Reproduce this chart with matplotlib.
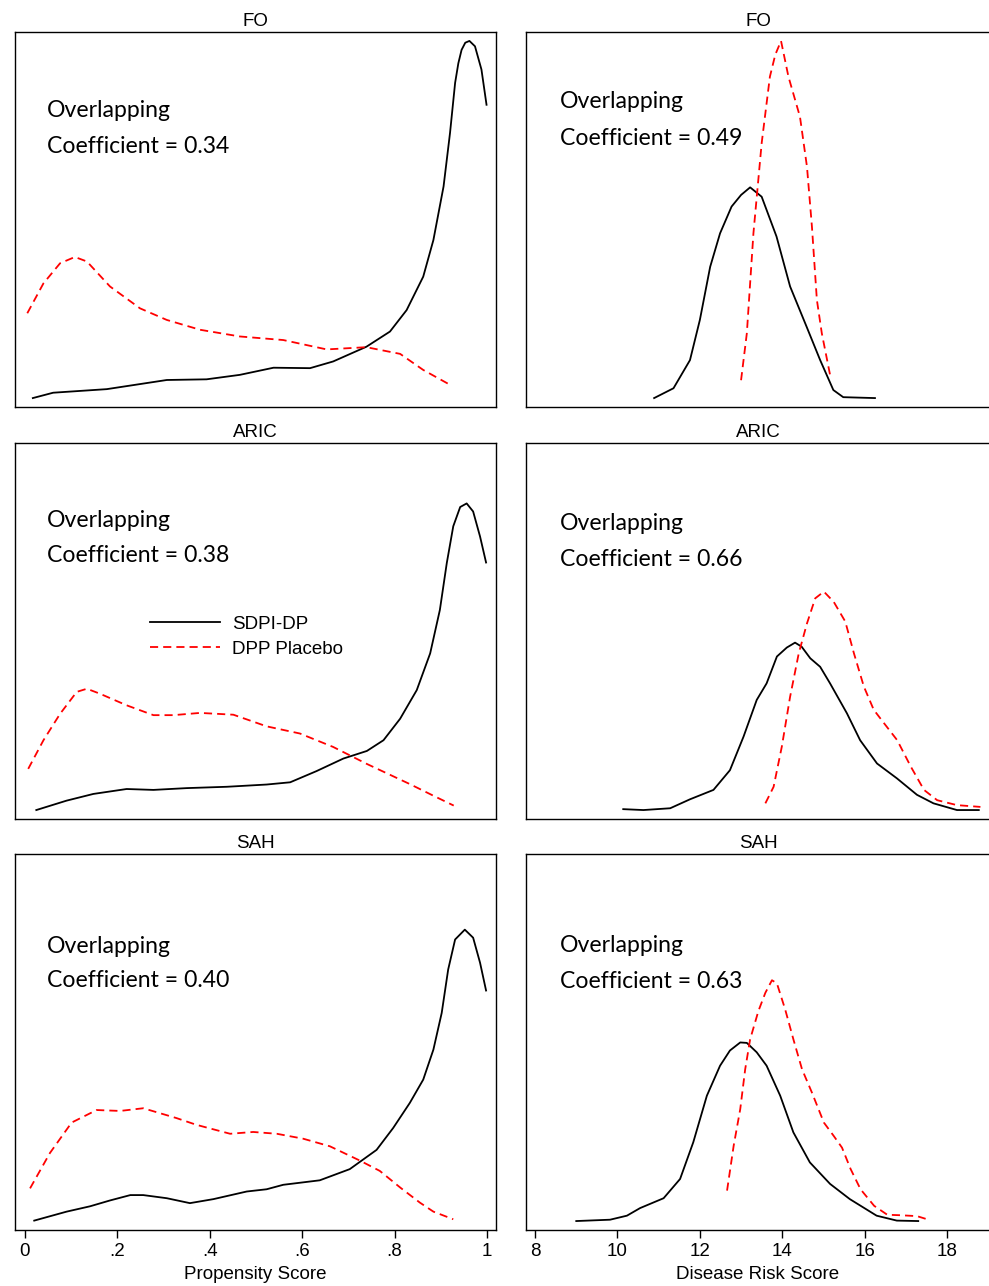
import matplotlib
matplotlib.use("Agg")
from matplotlib import pyplot as plt
import numpy as np

# Propensity score densities (left column)
ps_fo_sdpi_x = [0.017, 0.061, 0.177, 0.307, 0.393, 0.465, 0.538, 0.617, 0.667, 0.739, 0.790, 0.826,
                0.862, 0.884, 0.906, 0.920, 0.931, 0.938, 0.945, 0.953, 0.962, 0.974, 0.988, 0.999]
ps_fo_sdpi_y = [0.0, 0.12, 0.20, 0.405, 0.42, 0.52, 0.68, 0.67, 0.82, 1.15, 1.49, 1.97,
                2.72, 3.54, 4.74, 5.94, 7.06, 7.50, 7.80, 7.96, 8.0, 7.88, 7.36, 6.57]
ps_fo_dpp_x = [0.005, 0.040, 0.076, 0.108, 0.134, 0.184, 0.249, 0.307, 0.379, 0.465, 0.559, 0.653,
               0.739, 0.812, 0.862, 0.916]
ps_fo_dpp_y = [1.90, 2.57, 3.02, 3.16, 3.06, 2.50, 2.01, 1.75, 1.53, 1.38, 1.30, 1.09,
               1.14, 0.99, 0.63, 0.32]

ps_aric_sdpi_x = [0.0245, 0.090, 0.148, 0.220, 0.278, 0.350, 0.437, 0.523, 0.574, 0.631, 0.689, 0.740,
                  0.776, 0.812, 0.848, 0.877, 0.898, 0.913, 0.927, 0.942, 0.956, 0.970, 0.985, 0.998]
ps_aric_sdpi_y = [0.0, 0.21, 0.36, 0.47, 0.45, 0.49, 0.52, 0.57, 0.62, 0.87, 1.15, 1.32,
                  1.56, 2.04, 2.68, 3.50, 4.47, 5.52, 6.34, 6.77, 6.85, 6.67, 6.11, 5.53]
ps_aric_dpp_x = [0.007, 0.040, 0.076, 0.112, 0.134, 0.162, 0.220, 0.278, 0.321, 0.379, 0.451, 0.523,
                 0.595, 0.667, 0.740, 0.833, 0.884, 0.928]
ps_aric_dpp_y = [0.92, 1.56, 2.15, 2.64, 2.71, 2.60, 2.34, 2.12, 2.12, 2.17, 2.13, 1.87,
                 1.71, 1.41, 1.03, 0.58, 0.32, 0.10]

ps_sah_sdpi_x = [0.020, 0.090, 0.141, 0.184, 0.228, 0.256, 0.307, 0.357, 0.408, 0.480, 0.523, 0.559,
                 0.638, 0.703, 0.761, 0.797, 0.833, 0.862, 0.884, 0.902, 0.916, 0.931, 0.952, 0.970,
                 0.985, 0.998]
ps_sah_sdpi_y = [0.01, 0.21, 0.33, 0.46, 0.58, 0.58, 0.51, 0.40, 0.49, 0.66, 0.71, 0.81,
                 0.91, 1.16, 1.59, 2.08, 2.64, 3.16, 3.83, 4.65, 5.62, 6.29, 6.51, 6.33,
                 5.77, 5.15]
ps_sah_dpp_x = [0.011, 0.054, 0.101, 0.155, 0.206, 0.256, 0.328, 0.371, 0.444, 0.494, 0.545, 0.602,
                0.660, 0.725, 0.768, 0.812, 0.855, 0.884, 0.927]
ps_sah_dpp_y = [0.73, 1.52, 2.20, 2.48, 2.46, 2.52, 2.30, 2.15, 1.95, 1.99, 1.95, 1.84,
                1.67, 1.35, 1.12, 0.75, 0.41, 0.21, 0.04]

# Disease risk score densities (right column)
drs_fo_sdpi_x = [10.89, 11.36, 11.76, 12.0, 12.25, 12.49, 12.77, 13.0, 13.22, 13.50, 13.86, 14.19,
                 14.59, 14.92, 15.24, 15.48, 16.25]
drs_fo_sdpi_y = [0.0, 0.022, 0.085, 0.175, 0.294, 0.369, 0.429, 0.455, 0.472, 0.451, 0.362, 0.250,
                 0.160, 0.085, 0.018, 0.002, 0.0]
drs_fo_dpp_x = [13.0, 13.14, 13.30, 13.50, 13.70, 13.83, 13.97, 14.15, 14.43, 14.60, 14.72, 14.84,
                14.96, 15.16]
drs_fo_dpp_y = [0.040, 0.145, 0.369, 0.571, 0.72, 0.769, 0.80, 0.72, 0.63, 0.518, 0.384, 0.220,
                0.145, 0.052]

drs_aric_sdpi_x = [10.14, 10.63, 11.28, 11.76, 12.33, 12.73, 13.06, 13.38, 13.62, 13.87, 14.11, 14.31,
                   14.47, 14.68, 14.92, 15.16, 15.57, 15.89, 16.30, 16.78, 17.27, 17.67, 18.24, 18.77]
drs_aric_sdpi_y = [0.002, 0.0, 0.004, 0.024, 0.045, 0.089, 0.164, 0.246, 0.283, 0.343, 0.363, 0.374,
                   0.365, 0.339, 0.320, 0.283, 0.216, 0.156, 0.104, 0.071, 0.034, 0.015, 0.0, 0.0]
drs_aric_dpp_x = [13.59, 13.79, 13.99, 14.19, 14.40, 14.60, 14.80, 15.01, 15.25, 15.53, 15.74, 15.98,
                  16.22, 16.47, 16.79, 17.12, 17.44, 17.76, 18.24, 18.81]
drs_aric_dpp_y = [0.015, 0.052, 0.142, 0.253, 0.350, 0.417, 0.473, 0.488, 0.465, 0.421, 0.350, 0.276,
                  0.224, 0.194, 0.156, 0.097, 0.045, 0.022, 0.011, 0.007]

drs_sah_sdpi_x = [9.0, 9.82, 10.23, 10.55, 11.12, 11.52, 11.84, 12.17, 12.49, 12.73, 12.98, 13.14,
                  13.38, 13.62, 13.95, 14.27, 14.67, 15.16, 15.64, 16.29, 16.78, 17.30]
drs_sah_sdpi_y = [0.0, 0.003, 0.012, 0.029, 0.051, 0.094, 0.176, 0.28, 0.347, 0.381, 0.399, 0.398,
                  0.377, 0.347, 0.28, 0.198, 0.131, 0.083, 0.049, 0.012, 0.001, 0.0]
drs_sah_dpp_x = [12.66, 12.82, 12.98, 13.10, 13.22, 13.42, 13.59, 13.75, 13.87, 14.07, 14.27, 14.48,
                 14.72, 15.01, 15.25, 15.45, 15.66, 15.90, 16.23, 16.55, 16.87, 17.27, 17.48]
drs_sah_dpp_y = [0.068, 0.168, 0.25, 0.339, 0.406, 0.469, 0.51, 0.538, 0.531, 0.473, 0.406, 0.339,
                 0.287, 0.22, 0.19, 0.164, 0.116, 0.071, 0.034, 0.014, 0.013, 0.011, 0.005]

titles = ["FO", "ARIC", "SAH"]
ps_coef = ["0.34", "0.38", "0.40"]
drs_coef = ["0.49", "0.66", "0.63"]
ps_ticks = [0, 0.2, 0.4, 0.6, 0.8, 1.0]
ps_ticklabels = ["0", ".2", ".4", ".6", ".8", "1"]
drs_ticks = [8, 10, 12, 14, 16, 18]

left_curves = [(ps_fo_sdpi_x, ps_fo_sdpi_y, ps_fo_dpp_x, ps_fo_dpp_y),
               (ps_aric_sdpi_x, ps_aric_sdpi_y, ps_aric_dpp_x, ps_aric_dpp_y),
               (ps_sah_sdpi_x, ps_sah_sdpi_y, ps_sah_dpp_x, ps_sah_dpp_y)]
right_curves = [(drs_fo_sdpi_x, drs_fo_sdpi_y, drs_fo_dpp_x, drs_fo_dpp_y),
                (drs_aric_sdpi_x, drs_aric_sdpi_y, drs_aric_dpp_x, drs_aric_dpp_y),
                (drs_sah_sdpi_x, drs_sah_sdpi_y, drs_sah_dpp_x, drs_sah_dpp_y)]

plt.rcParams['font.family'] = ['Liberation Sans', 'DejaVu Sans']
W, H = 989, 1286
fig = plt.figure(figsize=(W / 100, H / 100), dpi=100)

# pixel boxes (top, bottom) for the rows
rows = [(32, 407), (443, 819), (854, 1230)]
# text baselines (axes fraction) for the two annotation lines
ps_text_y = [(0.7725, 0.6765), (0.7776, 0.684), (0.7375, 0.6455)]
drs_text_y = [(0.7965, 0.6987), (0.7686, 0.6737), (0.7388, 0.644)]

FS = 13.5
LW = 1.3
DASH = (4.5, 2.8)
ann_font = dict(family='Lato', size=16.6)

for i in range(3):
    top, bot = rows[i]
    b = 1 - bot / H
    h = (bot - top) / H

    # left column: propensity score
    ax = fig.add_axes([15 / W, b, 481 / W, h])
    sx, sy, dx, dy = left_curves[i]
    ax.plot(sx, sy, color='black', lw=LW, label='SDPI-DP')
    ax.plot(dx, dy, color='red', lw=LW, dashes=DASH, label='DPP Placebo')
    ax.set_xlim(-0.0216, 1.0195)
    ax.set_ylim(-0.2, 8.2)
    ax.set_title(titles[i], fontsize=FS, pad=4)
    ax.text(0.066, ps_text_y[i][0], "Overlapping", transform=ax.transAxes, va='baseline', **ann_font)
    ax.text(0.066, ps_text_y[i][1], "Coefficient = " + ps_coef[i], transform=ax.transAxes,
            va='baseline', **ann_font)
    ax.set_yticks([])
    if i == 2:
        ax.set_xticks(ps_ticks)
        ax.set_xticklabels(ps_ticklabels)
        ax.tick_params(axis='x', direction='out', length=6, width=1, labelsize=FS, pad=3)
        ax.set_xlabel("Propensity Score", fontsize=FS, labelpad=5)
    else:
        ax.set_xticks([])
    if i == 1:
        ax.legend(loc='upper left', bbox_to_anchor=(0.2807, 0.541), frameon=False, fontsize=FS,
                  handlelength=3.75, handletextpad=0.64, labelspacing=0.42, borderpad=0,
                  borderaxespad=0)
    for s in ax.spines.values():
        s.set_linewidth(1.0)

    # right column: disease risk score
    ax = fig.add_axes([526 / W, b, 464 / W, h])
    sx, sy, dx, dy = right_curves[i]
    ax.plot(sx, sy, color='black', lw=LW)
    ax.plot(dx, dy, color='red', lw=LW, dashes=DASH)
    ax.set_xlim(7.78, 7.78 + 464 / 41.2)
    ax.set_ylim(-0.02, 0.82)
    ax.set_title(titles[i], fontsize=FS, pad=4)
    ax.text(0.0728, drs_text_y[i][0], "Overlapping", transform=ax.transAxes, va='baseline', **ann_font)
    ax.text(0.0728, drs_text_y[i][1], "Coefficient = " + drs_coef[i], transform=ax.transAxes,
            va='baseline', **ann_font)
    ax.set_yticks([])
    if i == 2:
        ax.set_xticks(drs_ticks)
        ax.tick_params(axis='x', direction='out', length=6, width=1, labelsize=FS, pad=3)
        ax.set_xlabel("Disease Risk Score", fontsize=FS, labelpad=5)
    else:
        ax.set_xticks([])
    for s in ax.spines.values():
        s.set_linewidth(1.0)

fig.savefig("out.png", dpi=100)
